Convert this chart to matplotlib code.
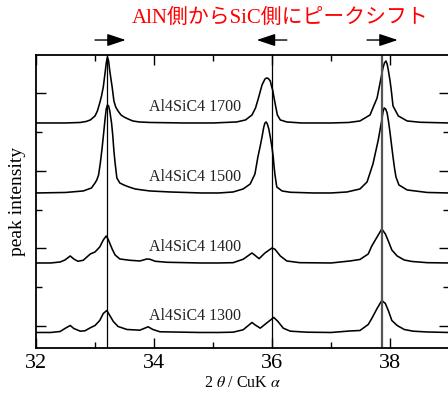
import matplotlib
matplotlib.use("Agg")
import matplotlib.pyplot as plt
from matplotlib.ticker import MultipleLocator

plt.rcParams["font.family"] = ["Liberation Serif", "Noto Sans CJK JP"]
plt.rcParams["mathtext.fontset"] = "stix"

# digitised XRD patterns (2theta in deg, intensity in arbitrary units)
two_theta_1700 = [32.0, 32.5, 32.75, 32.85, 32.92, 33.0, 33.04, 33.08, 33.11, 33.14, 33.17, 33.19,
                  33.21, 33.23, 33.25, 33.27, 33.29, 33.32, 33.35, 33.39, 33.44, 33.49, 33.56, 33.64,
                  33.75, 33.93, 34.5, 35.0, 35.40, 35.55, 35.66, 35.72, 35.77, 35.83, 35.88, 35.91,
                  35.935, 35.97, 35.99, 36.01, 36.05, 36.09, 36.14, 36.25, 36.5, 37.0, 37.3, 37.49,
                  37.66, 37.78, 37.83, 37.88, 37.905, 37.93, 37.95, 37.97, 38.0, 38.02, 38.05, 38.14,
                  38.29, 38.51, 39.0]
int_1700 = [0, 0, 0.5, 1.5, 3, 7, 12, 20, 27, 36, 50, 60,
            66, 62, 52, 44, 36, 22, 16, 12, 8, 6, 4, 2,
            1, 0.5, 0, 0, 1, 3, 8, 15, 25, 38, 44, 45,
            44.5, 42, 37, 33, 20, 8, 3, 1, 0, 0, 0.5, 2,
            8, 25, 40, 55, 60, 62, 59, 53, 42, 33, 17, 7,
            2, 0.7, 0]

two_theta_1500 = [32.0, 32.5, 32.80, 32.94, 33.00, 33.03, 33.06, 33.09, 33.12, 33.15, 33.17, 33.19,
                  33.21, 33.23, 33.25, 33.28, 33.30, 33.32, 33.34, 33.37, 33.42, 33.47, 33.53, 33.6,
                  33.68, 33.8, 33.93, 34.27, 34.8, 35.1, 35.34, 35.51, 35.63, 35.71, 35.76, 35.80,
                  35.83, 35.86, 35.88, 35.90, 35.92, 35.945, 35.97, 36.00, 36.02, 36.035, 36.05, 36.08,
                  36.17, 36.31, 36.7, 37.0, 37.27, 37.49, 37.61, 37.71, 37.80, 37.83, 37.86, 37.88,
                  37.90, 37.925, 37.95, 37.975, 38.00, 38.025, 38.05, 38.075, 38.10, 38.15, 38.29, 38.63,
                  39.0]
int_1500 = [0, 0.5, 2, 5, 10, 13, 18, 30, 45, 62, 74, 84,
            88, 87, 82, 70, 58, 42, 30, 15, 10, 8.5, 7, 5.5,
            4, 3, 2, 1, 0, 0, 1, 4, 9, 19, 36, 47,
            56, 66, 70, 71, 69, 64, 56, 45, 36, 26, 18, 6,
            2, 0.7, 0, 0, 1, 4, 11, 29, 53, 63, 73, 81,
            85, 84, 80, 71, 60, 48, 36, 25, 16, 8, 3, 0.5,
            0]

two_theta_1400 = [32.0, 32.25, 32.41, 32.49, 32.58, 32.64, 32.71, 32.80, 32.92, 33.00, 33.08, 33.14,
                  33.19, 33.22, 33.29, 33.34, 33.42, 33.59, 33.76, 33.88, 33.93, 34.02, 34.22, 34.78,
                  35.1, 35.34, 35.51, 35.66, 35.71, 35.78, 35.88, 36.00, 36.05, 36.14, 36.25, 36.47,
                  37.0, 37.32, 37.49, 37.63, 37.69, 37.78, 37.86, 37.92, 37.97, 38.03, 38.12, 38.24,
                  38.37, 38.63, 39.0]
int_1400 = [0, 0, 1, 3, 7, 4, 1.7, 2.7, 9, 11, 16, 23,
            27, 24, 14, 8, 4, 2.7, 2, 4, 3.7, 1.7, 0.7, 0,
            0, 0.3, 3.7, 10, 7.7, 4.3, 10, 15, 13.7, 7, 2, 0.3,
            0, 2, 3.5, 9, 17, 26, 34, 29, 22, 13, 7, 3,
            1.5, 0.3, 0]

two_theta_1300 = [32.0, 32.25, 32.41, 32.49, 32.58, 32.64, 32.75, 32.83, 32.92, 33.00, 33.08, 33.14,
                  33.20, 33.25, 33.31, 33.39, 33.54, 33.76, 33.90, 33.98, 34.10, 34.78, 35.1, 35.34,
                  35.51, 35.66, 35.71, 35.80, 35.92, 36.03, 36.10, 36.19, 36.31, 36.59, 37.0, 37.32,
                  37.49, 37.63, 37.69, 37.78, 37.86, 37.92, 37.97, 38.03, 38.12, 38.24, 38.39, 38.63,
                  39.0]
int_1300 = [0, 0, 1, 4, 7, 4, 1.3, 1.7, 4.7, 7, 12, 19,
            22, 17, 11, 6, 3, 2.3, 5.7, 3, 0.7, 0, 0, 0.3,
            2.7, 10, 7.7, 4.3, 10, 15, 11, 4.3, 1.3, 0.3, 0, 1.5,
            2, 8, 14, 24, 32, 29, 22, 12, 7, 3, 1.3, 0.5,
            0]

samples = ["Al4SiC4 1300", "Al4SiC4 1400", "Al4SiC4 1500", "Al4SiC4 1700"]
offsets = [-6.5, 63, 133, 203]
ref_lines = [33.2, 36.0, 37.86]
# shift arrows: (start, end) in 2theta
shift_arrows = [(33.0, 33.52), (36.25, 35.74), (37.61, 38.13)]

patterns = [(two_theta_1300, int_1300), (two_theta_1400, int_1400),
            (two_theta_1500, int_1500), (two_theta_1700, int_1700)]

fig = plt.figure(figsize=(4.48, 3.94), dpi=100)
ax = fig.add_axes([0.0804, 0.1168, 0.922, 0.7437])

for (x, y), off, name in zip(patterns, offsets, samples):
    ax.plot(x, [v + off for v in y], color="black", lw=1.15)
    ax.text(34.69, off + 16, name, ha="center", va="center", fontsize=11.5,
            color="#222222")

for i, xv in enumerate(ref_lines):
    if i == 2:
        ax.axvline(xv, color="#555555", lw=1.6)
    else:
        ax.axvline(xv, color="black", lw=0.9)

for x0, x1 in shift_arrows:
    ax.annotate("", xy=(x1, 1.051), xytext=(x0, 1.051),
                xycoords=ax.get_xaxis_transform(),
                textcoords=ax.get_xaxis_transform(),
                arrowprops=dict(arrowstyle="-|>,head_length=0.75,head_width=0.25",
                                color="black", lw=1.0, mutation_scale=15,
                                shrinkA=0, shrinkB=0),
                annotation_clip=False)

fig.text(0.626, 1 - 18.5 / 394, "AlN側からSiC側にピークシフト", color="#ff0000",
         fontsize=15, ha="center", va="center")

ax.set_xlim(32, 39)
ax.set_ylim(-22, 271)
ax.xaxis.set_major_locator(MultipleLocator(2))
ax.xaxis.set_minor_locator(MultipleLocator(1))
ax.yaxis.set_major_locator(MultipleLocator(77.5))
ax.yaxis.set_minor_locator(MultipleLocator(38.75))
ax.tick_params(which="both", direction="in", top=True, right=True, width=1.0)
ax.tick_params(which="major", length=7)
ax.tick_params(which="minor", length=4)
ax.tick_params(axis="x", labelsize=16, pad=4)
ax.set_yticklabels([])
for s in ax.spines.values():
    s.set_linewidth(1.3)

ax.set_xlabel(r"2 $\theta$ / CuK $\alpha$", fontsize=11.5, labelpad=2)
ax.set_ylabel("peak intensity", fontsize=14, labelpad=4)

fig.savefig("out.png", dpi=100)
